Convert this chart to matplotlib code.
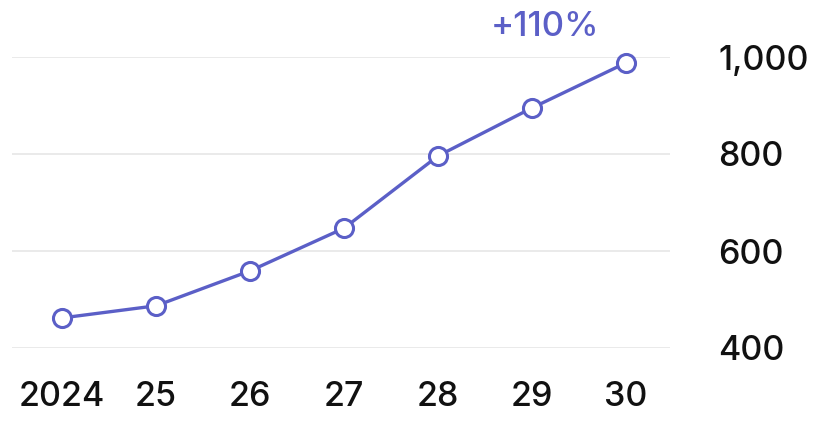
import matplotlib
matplotlib.use("Agg")
import matplotlib.pyplot as plt

plt.rcParams["font.family"] = ["Inter", "DejaVu Sans"]

YEARS = ["2024", "25", "26", "27", "28", "29", "30"]
VALUES = [462, 487, 559, 647, 796, 895, 988]
Y_TICKS = [400, 600, 800, 1000]
Y_LABELS = ["400", "600", "800", "1,000"]
NOTE = "+110%"

LINE = "#5b5fc7"

fig = plt.figure(figsize=(8.30, 4.22), dpi=100)
ax = fig.add_axes([12 / 830, 74 / 422, 658 / 830, 291 / 422])

x = list(range(len(YEARS)))
ax.plot(x, VALUES, color=LINE, linewidth=2.4, marker="o", markersize=13,
        markerfacecolor="white", markeredgecolor=LINE, markeredgewidth=2.2,
        clip_on=False, zorder=3)

ax.set_xlim(-0.532, 6.468)
ax.set_ylim(400, 1000)
ax.set_xticks(x)
ax.set_xticklabels(YEARS)
ax.set_yticks(Y_TICKS)
ax.set_yticklabels(Y_LABELS)
ax.yaxis.tick_right()
for lbl in ax.get_yticklabels() + ax.get_xticklabels():
    lbl.set_fontweight("medium")
for lbl in ax.get_yticklabels():
    lbl.set_horizontalalignment("left")
ax.tick_params(axis="y", length=0, pad=35, labelsize=24.5, labelcolor="#111111")
ax.tick_params(axis="x", length=0, pad=24, labelsize=24.5, labelcolor="#111111")

ax.grid(axis="y", color="#e6e6e6", linewidth=1.2)
ax.set_axisbelow(True)
for s in ax.spines.values():
    s.set_visible(False)

ax.annotate(NOTE, xy=(x[-1], VALUES[-1]), xytext=(-58, 26),
            textcoords="offset points", ha="center", va="center",
            fontsize=25, fontweight="medium", color=LINE)

fig.savefig("out.png", dpi=100)
